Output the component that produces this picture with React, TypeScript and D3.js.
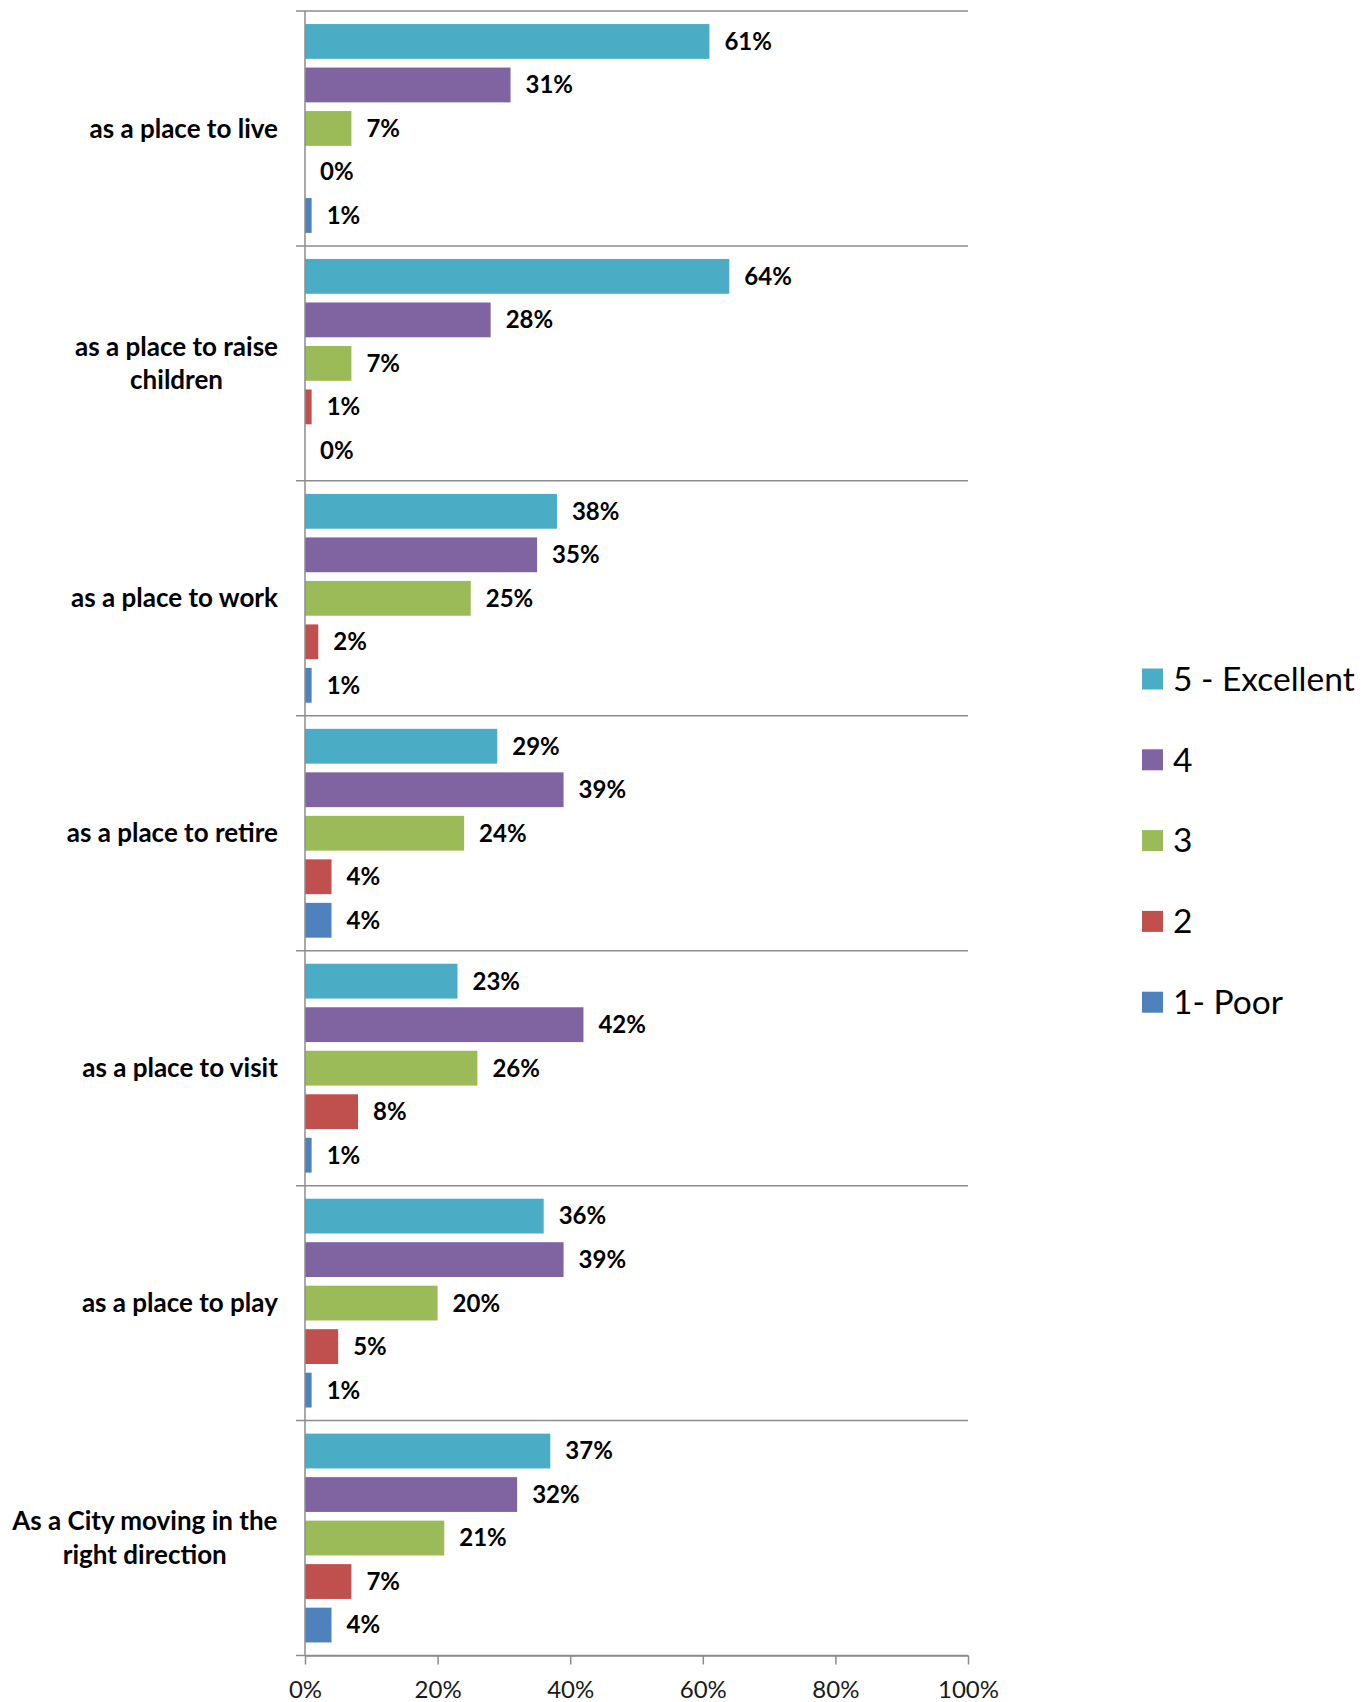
import { useEffect, useRef } from 'react';
import * as d3 from 'd3';

// categories (\n marks where the label wraps)
const categories = [
  'as a place to live',
  'as a place to raise\nchildren',
  'as a place to work',
  'as a place to retire',
  'as a place to visit',
  'as a place to play',
  'As a City moving in the\nright direction',
];

const seriesNames = ['5 - Excellent', '4', '3', '2', '1- Poor'];
const seriesColors = ['#4BACC6', '#8064A2', '#9BBB59', '#C0504D', '#4F81BD'];

// percent values per rating, in category order
const excellent = [61, 64, 38, 29, 23, 36, 37];
const four = [31, 28, 35, 39, 42, 39, 32];
const three = [7, 7, 25, 24, 26, 20, 21];
const two = [0, 1, 2, 4, 8, 5, 7];
const poor = [1, 0, 1, 4, 1, 1, 4];

const xTicks = [0, 20, 40, 60, 80, 100];

export default function App() {
  const svgRef = useRef<SVGSVGElement>(null);
  const width = 1370;
  const height = 1702;
  const plot = { left: 305, right: 968, top: 11, bottom: 1655.5 };
  const font = 'Lato, Carlito, Calibri, sans-serif';

  useEffect(() => {
    if (!svgRef.current) return;
    document.body.style.margin = '0';

    const svg = d3.select(svgRef.current);
    svg.selectAll('*').remove();

    const series = [excellent, four, three, two, poor];

    const x = d3.scaleLinear().domain([0, 100]).range([plot.left, plot.right]);
    const y = d3.scaleBand<string>()
      .domain(categories)
      .range([plot.top, plot.bottom])
      .padding(0);
    const inner = d3.scaleBand<string>()
      .domain(seriesNames)
      .range([0, y.bandwidth()])
      .paddingInner(0.2)
      .paddingOuter(0.3);

    const gridColor = '#8c8c8c';

    // category boundary lines (with outside tick)
    const boundaries = categories.map((c) => y(c)!).concat([plot.bottom]);
    svg.append('g')
      .selectAll('line')
      .data(boundaries)
      .enter()
      .append('line')
      .attr('x1', plot.left - 9)
      .attr('x2', plot.right)
      .attr('y1', (d) => d)
      .attr('y2', (d) => d)
      .attr('stroke', gridColor)
      .attr('stroke-width', 1.5);

    // bars
    categories.forEach((cat, ci) => {
      const g = svg.append('g').attr('transform', `translate(0,${y(cat)})`);
      seriesNames.forEach((name, si) => {
        const v = series[si][ci];
        const by = inner(name)!;
        if (v > 0) {
          g.append('rect')
            .attr('x', x(0))
            .attr('y', by)
            .attr('width', x(v) - x(0))
            .attr('height', inner.bandwidth())
            .attr('fill', seriesColors[si]);
        }
        g.append('text')
          .attr('x', x(v) + 15)
          .attr('y', by + inner.bandwidth() / 2)
          .attr('dy', '0.35em')
          .attr('font-family', font)
          .attr('font-weight', 700)
          .attr('font-size', 24)
          .attr('fill', '#000')
          .text(`${v}%`);
      });
    });

    // category labels, right aligned block, lines centered
    categories.forEach((cat) => {
      const lines = cat.split('\n');
      const lineH = 33.6;
      const t = svg.append('text')
        .attr('font-family', font)
        .attr('font-weight', 700)
        .attr('font-size', 26)
        .attr('text-anchor', 'middle')
        .attr('fill', '#000');
      lines.forEach((line, i) => {
        t.append('tspan')
          .attr('x', 0)
          .attr('y', y(cat)! + y.bandwidth() / 2 + (i - (lines.length - 1) / 2) * lineH)
          .attr('dy', '0.35em')
          .text(line);
      });
      const w = (t.node() as SVGTextElement).getBBox().width;
      t.attr('transform', `translate(${278 - w / 2},0)`);
    });

    // vertical axis line
    svg.append('line')
      .attr('x1', plot.left)
      .attr('x2', plot.left)
      .attr('y1', plot.top)
      .attr('y2', plot.bottom)
      .attr('stroke', gridColor)
      .attr('stroke-width', 1.5);

    // x axis
    const xAxis = svg.append('g')
      .attr('transform', `translate(0,${plot.bottom})`)
      .call(d3.axisBottom(x).tickValues(xTicks).tickSize(9).tickSizeOuter(0).tickFormat((d) => `${d}%`));
    xAxis.select('.domain').attr('stroke', gridColor).attr('stroke-width', 1.5);
    xAxis.selectAll('line').attr('stroke', gridColor).attr('stroke-width', 1.5);
    xAxis.selectAll('text')
      .attr('y', 34.5)
      .attr('dy', '0.35em')
      .attr('fill', '#1a1a1a')
      .style('font-family', font)
      .style('font-size', '24px');

    // legend
    const legend = svg.append('g');
    seriesNames.forEach((name, i) => {
      const cy = 679 + i * 80.8;
      legend.append('rect')
        .attr('x', 1142)
        .attr('y', cy - 10.5)
        .attr('width', 21)
        .attr('height', 21)
        .attr('fill', seriesColors[i]);
      legend.append('text')
        .attr('x', 1173)
        .attr('y', cy)
        .attr('dy', '0.35em')
        .attr('font-family', font)
        .attr('font-size', 33.5)
        .attr('fill', '#000')
        .text(name);
    });
  }, []);

  return <svg ref={svgRef} width={width} height={height} style={{ display: 'block' }} />;
}
